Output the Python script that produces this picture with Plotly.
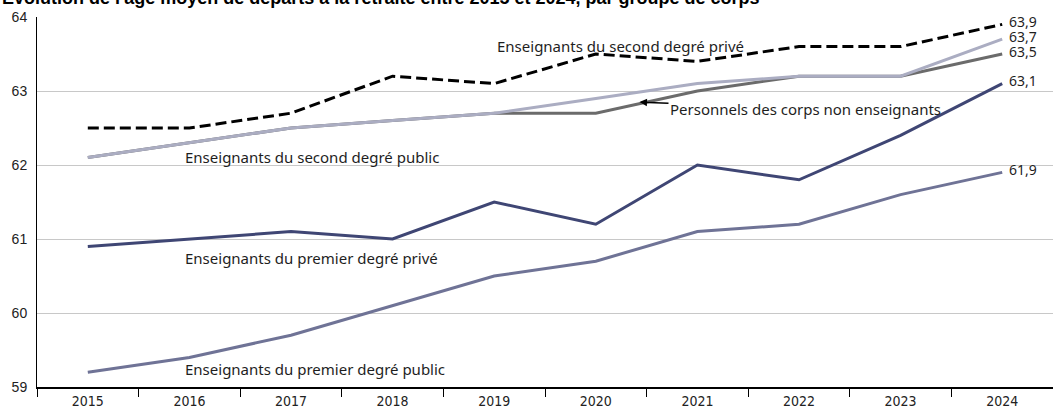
import plotly.graph_objects as go

years = ["2015", "2016", "2017", "2018", "2019", "2020", "2021", "2022", "2023", "2024"]

second_prive = [62.5, 62.5, 62.7, 63.2, 63.1, 63.5, 63.4, 63.6, 63.6, 63.9]
second_public = [62.1, 62.3, 62.5, 62.6, 62.7, 62.9, 63.1, 63.2, 63.2, 63.7]
non_enseignants = [62.1, 62.3, 62.5, 62.6, 62.7, 62.7, 63.0, 63.2, 63.2, 63.5]
premier_prive = [60.9, 61.0, 61.1, 61.0, 61.5, 61.2, 62.0, 61.8, 62.4, 63.1]
premier_public = [59.2, 59.4, 59.7, 60.1, 60.5, 60.7, 61.1, 61.2, 61.6, 61.9]

label_font = "Noto Sans, Lato, sans-serif"
txt = dict(family=label_font, size=15, color="#1e1e1e")

fig = go.Figure()

# ordre de tracé : les gris clairs au-dessus du gris foncé
series = [
    (premier_public, "#6f7396", "solid"),
    (premier_prive, "#3f4674", "solid"),
    (non_enseignants, "#6b6b6b", "solid"),
    (second_public, "#abadc2", "solid"),
    (second_prive, "#000000", "11px,5px"),
]
for vals, col, dash in series:
    fig.add_trace(go.Scatter(
        x=years, y=vals, mode="lines",
        line=dict(color=col, width=3, dash=dash),
        hoverinfo="skip", showlegend=False
    ))

# valeurs finales (x en indice de catégorie)
last = len(years) - 1
for vals in [second_prive, second_public, non_enseignants, premier_prive, premier_public]:
    fig.add_annotation(
        x=last, y=vals[-1], text=f"{vals[-1]:.1f}".replace(".", ","),
        showarrow=False, xanchor="left", xshift=5, yshift=3,
        font=dict(family=label_font, size=14, color="#1e1e1e")
    )

# étiquettes des séries
fig.add_annotation(x=5.24, y=63.61, text="Enseignants du second degré privé", showarrow=False,
                   xanchor="center", font=txt)
fig.add_annotation(x=0.935, y=62.11, text="Enseignants du second degré public", showarrow=False,
                   xanchor="left", font=txt)
fig.add_annotation(x=0.935, y=60.74, text="Enseignants du premier degré privé", showarrow=False,
                   xanchor="left", font=txt)
fig.add_annotation(x=0.935, y=59.24, text="Enseignants du premier degré public", showarrow=False,
                   xanchor="left", font=txt)
fig.add_annotation(x=5.43, y=62.85, text="Personnels des corps non enseignants",
                   showarrow=True, arrowhead=2, arrowsize=1, arrowwidth=1.5, arrowcolor="#000",
                   ax=166, ay=7, xanchor="center", font=txt)

# titre (coupé en haut dans l'original)
fig.add_annotation(xref="paper", yref="paper", x=-0.036, y=1.053, xanchor="left", yanchor="middle",
                   text="<b>Évolution de l'âge moyen de départs à la retraite entre 2015 et 2024, par groupe de corps</b>",
                   showarrow=False, font=dict(family="Liberation Sans, Arial", size=18, color="#000"))

fig.update_layout(
    width=1053, height=415,
    margin=dict(l=37, r=0, t=17, b=28),
    plot_bgcolor="white", paper_bgcolor="white",
    xaxis=dict(
        type="category", tickson="boundaries", ticks="outside", ticklen=8,
        tickcolor="#000", showline=True, linecolor="#000", linewidth=1.5,
        showgrid=False, tickfont=dict(family="Liberation Sans Narrow, DejaVu Sans Condensed, Arial", size=14, color="#222"),
        range=[-0.5, 9.5], fixedrange=True
    ),
    yaxis=dict(
        range=[59, 64], dtick=1, showgrid=True, gridcolor="#c8c8c8", gridwidth=1,
        showline=True, linecolor="#000", linewidth=1, zeroline=False,
        ticks="", tickfont=dict(family="Liberation Sans, Arial", size=14, color="#222"),
        ticklabelstandoff=6
    ),
)

fig.write_html("out.html", config={"displayModeBar": False},
               post_script="document.body.style.margin='0';document.body.style.overflow='hidden';")
